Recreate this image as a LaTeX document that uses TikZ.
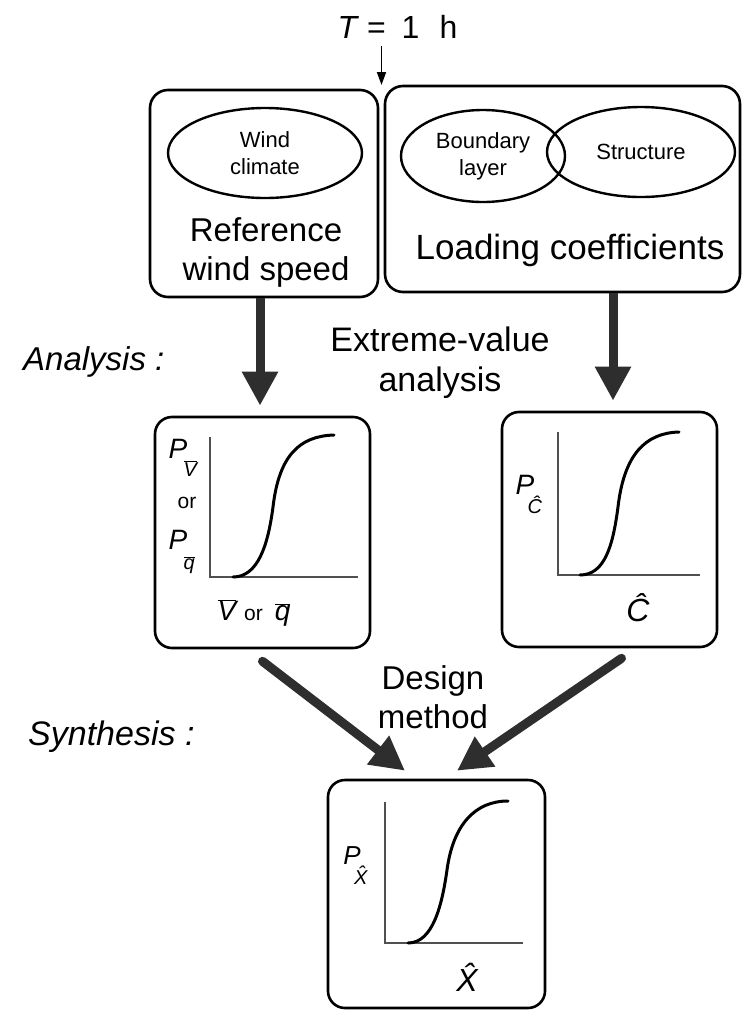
\RequirePackage{fix-cm}
\documentclass[tikz,border=0pt]{standalone}
\usepackage{fontspec}
\setmainfont{Liberation Sans}
\usetikzlibrary{arrows.meta,shapes.geometric,calc}
\definecolor{arrowgray}{HTML}{2E2E2E}
\definecolor{axisgray}{HTML}{505050}
\begin{document}
\begin{tikzpicture}[x=1bp,y=-1bp,
  box/.style={draw, line width=2.6bp, rounded corners=18bp, inner sep=0pt},
  oval/.style={draw, ellipse, line width=2.4bp, inner sep=0pt, align=center,
               font=\fontsize{22bp}{27bp}\selectfont},
  bigtxt/.style={align=center, inner sep=0pt, font=\fontsize{33bp}{39bp}\selectfont},
  stage/.style={anchor=west, inner sep=0pt, font=\fontsize{33bp}{39bp}\selectfont\itshape},
  fat/.style={line width=9bp, draw=arrowgray, -{Triangle[width=34bp,length=34bp]}},
  thinarrow/.style={line width=1.8bp, -{Triangle[width=9bp,length=13bp]}},
  axisline/.style={line width=1.4bp, draw=axisgray},
  cdf/.style={line width=3bp, line cap=round},
  lab/.style={inner sep=0pt, font=\fontsize{28bp}{28bp}\selectfont\itshape},
  sublab/.style={inner sep=0pt, anchor=north west, font=\fontsize{20bp}{20bp}\selectfont\itshape},
  smalltxt/.style={inner sep=0pt, font=\fontsize{21bp}{21bp}\selectfont},
]
\fill[white] (0,0) rectangle (742,1012);
\useasboundingbox (0,0) rectangle (742,1012);

% top label
\node[inner sep=0pt, font=\fontsize{32bp}{32bp}\selectfont] (tl) at (397.5,27)
  {\textit{T}\hspace{8bp}=\hspace{16bp}1\hspace{20bp}h};
\coordinate (meet) at (381.5,88);
\draw[thinarrow, shorten <=7bp, shorten >=3bp] (tl.south -| meet) -- (meet);

% top boxes
\node[box, minimum width=228bp, minimum height=207bp] (refbox) at (264,193.5) {};
\node[box, minimum width=355bp, minimum height=206bp] (loadbox) at (562.5,189) {};

\node[oval, minimum width=194bp, minimum height=90bp] (wind) at (265,153) {Wind\\climate};
\node[oval, minimum width=164bp, minimum height=92bp] (bl) at (483,156) {Boundary\\layer};
\node[oval, minimum width=188bp, minimum height=90bp] (st) at (641,152) {Structure};

\node[bigtxt] (reftxt) at (266,252) {Reference\\wind speed};
\node[bigtxt, font=\fontsize{35bp}{40bp}\selectfont] (loadtxt) at (570,250) {Loading coefficients};

% stage labels
\node[stage] (analysis) at (23,362) {Analysis :};
\node[stage, font=\fontsize{34bp}{39bp}\selectfont\itshape] (synthesis) at (28,737) {Synthesis :};
\node[bigtxt, font=\fontsize{34bp}{40bp}\selectfont] (evtxt) at (440,363) {Extreme-value\\analysis};
\node[bigtxt] (dmtxt) at (433,697) {Design\\method};

% graph boxes
\node[box, rounded corners=17bp, minimum width=215bp, minimum height=231bp] (gl) at (262.5,532.5) {};
\node[box, rounded corners=17bp, minimum width=215bp, minimum height=235bp] (gr) at (609.5,529.5) {};
\node[box, rounded corners=17bp, minimum width=217bp, minimum height=228bp] (bx) at (436.5,894) {};

% thick arrows
\draw[fat, shorten >=10bp] ([xshift=-2.5bp]gl.north |- refbox.south) -- ([xshift=-2.5bp]gl.north);
\draw[fat, shorten >=10bp] ([xshift=3.5bp]gr.north |- loadbox.south) -- ([xshift=3.5bp]gr.north);
\draw[fat, line cap=round] ([yshift=-12bp]gl.south) -- ([xshift=-31.5bp,yshift=8bp]bx.north);
\draw[fat, line cap=round] ([xshift=12bp,yshift=-10bp]gr.south) -- ([xshift=20.5bp,yshift=8bp]bx.north);

% left graph
\draw[axisline] (210,437) -- (210,577) -- (358,577);
\draw[cdf] (233,577) .. controls (258,577) and (268,545) .. (273,507)
  .. controls (279,455) and (300,436) .. (334,435);
\node[lab] (pv) at (178,449) {P};
\node[sublab] (pvs) at ([xshift=-4bp,yshift=-2bp]pv.south east) {$\overline{\mbox{V}}$};
\node[smalltxt] (ortxt) at (187,503) {or};
\node[lab] (pq) at (178,540) {P};
\node[sublab] (pqs) at ([xshift=-4bp,yshift=-7bp]pq.south east) {$\overline{\mbox{q}}$};
\node[lab] (xl) at (254,613) {$\overline{\mbox{V}}$\hspace{8bp}{\upshape\fontsize{21bp}{21bp}\selectfont or}\hspace{12bp}$\overline{\mbox{q}}$};

% right graph
\draw[axisline] (558,432) -- (558,575) -- (700,575);
\draw[cdf] (580,575) .. controls (605,575) and (613,545) .. (618,507)
  .. controls (624,455) and (645,433) .. (679,432);
\node[lab] (pc) at (525,485) {P};
\node[sublab] (pcs) at ([xshift=-7bp,yshift=-1bp]pc.south east) {\^{C}};
\node[lab, font=\fontsize{32bp}{32bp}\selectfont\itshape] (xr) at (638,608) {\^{C}};

% bottom graph
\draw[axisline] (385,802) -- (385,943) -- (523,943);
\draw[cdf] (408,943) .. controls (433,943) and (442,905) .. (447,870)
  .. controls (453,825) and (475,801) .. (508,801);
\node[lab, font=\fontsize{26bp}{26bp}\selectfont\itshape] (px) at (352,856) {P};
\node[sublab] (pxs) at ([xshift=-7bp,yshift=-1bp]px.south east) {\^{X}};
\node[lab, font=\fontsize{32bp}{32bp}\selectfont\itshape] (xb) at (467,977) {\^{X}};
\end{tikzpicture}
\end{document}
